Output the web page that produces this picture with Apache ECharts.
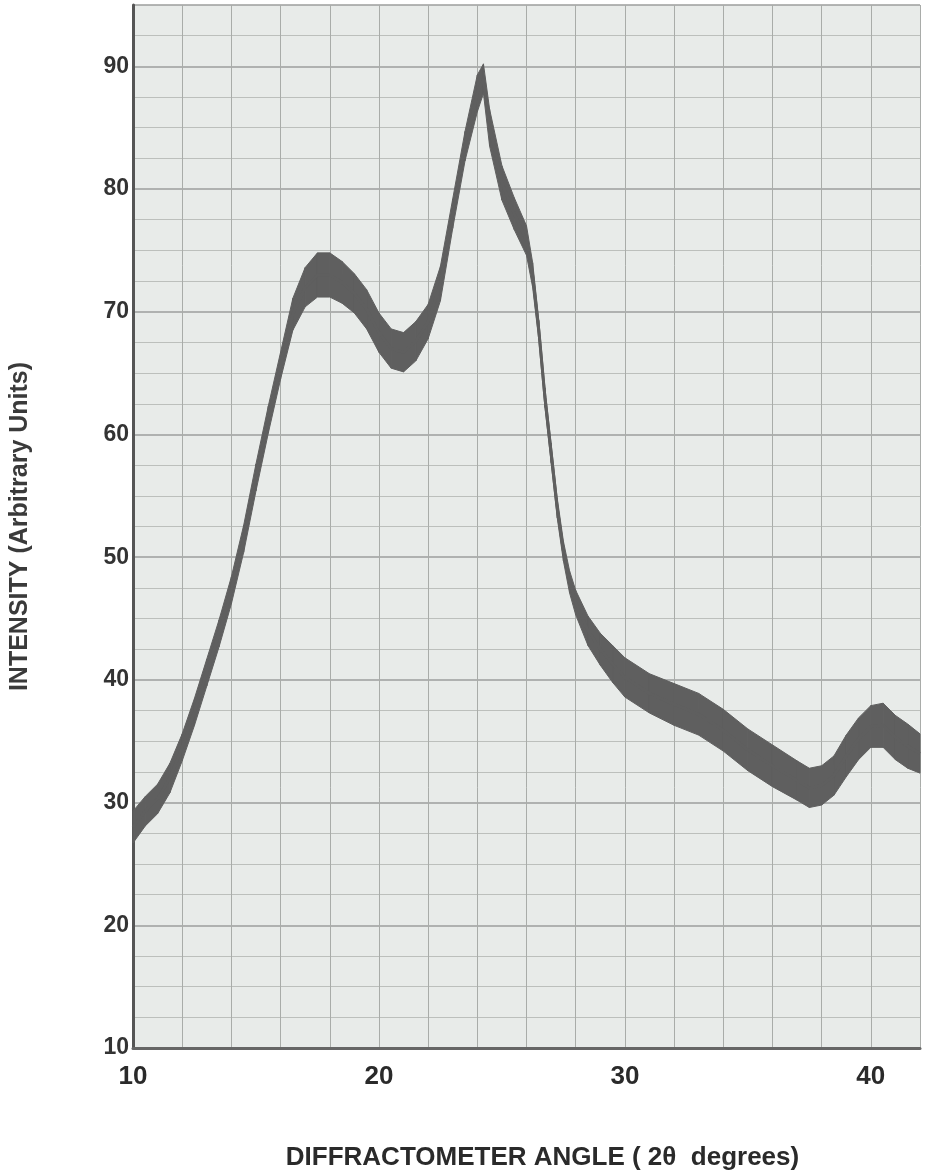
<!DOCTYPE html>
<html>
<head>
<meta charset="utf-8">
<title>XRD scan</title>
<script src="https://cdn.jsdelivr.net/npm/echarts@6/dist/echarts.min.js"></script>
<style>
  html, body { margin: 0; padding: 0; background: #ffffff; }
  #chart { width: 930px; height: 1176px; }
</style>
</head>
<body>
<div id="chart"></div>
<script>
// diffraction angle (2 theta, degrees)
var angles = [10, 10.5, 11, 11.5, 12, 12.5, 13, 13.5, 14, 14.5, 15, 15.5, 16, 16.5,
  17, 17.5, 18, 18.5, 19, 19.5, 20, 20.5, 21, 21.5, 22, 22.5, 23, 23.5, 24, 24.25,
  24.5, 25, 25.5, 26, 26.25, 26.5, 26.75, 27, 27.25, 27.5, 27.75, 28, 28.5, 29, 29.5,
  30, 31, 32, 33, 34, 35, 36, 37, 37.5, 38, 38.5, 39, 39.5, 40, 40.5, 41, 41.5, 42];

// centre of the trace (arbitrary units)
var intensity = [28.0, 29.3, 30.3, 32.0, 34.5, 37.4, 40.6, 43.8, 47.3, 51.5, 56.5, 61.2, 65.6, 69.8,
  72.0, 73.0, 73.0, 72.4, 71.5, 70.2, 68.3, 67.0, 66.7, 67.6, 69.2, 72.3, 78.0, 83.5, 87.8, 89.0,
  85.0, 80.5, 78.0, 75.8, 73.0, 68.5, 63.0, 58.5, 54.0, 50.5, 48.0, 46.3, 44.0, 42.5, 41.3,
  40.2, 38.9, 38.0, 37.2, 35.9, 34.3, 33.0, 31.8, 31.2, 31.4, 32.2, 33.8, 35.2, 36.2, 36.3, 35.3, 34.6, 34.0];

// half thickness of the noisy band
var noise = [1.3, 1.2, 1.2, 1.2, 1.1, 1.1, 1.1, 1.1, 1.1, 1.1, 1.1, 1.1, 1.1, 1.3,
  1.6, 1.8, 1.8, 1.7, 1.6, 1.6, 1.6, 1.6, 1.6, 1.6, 1.4, 1.4, 1.2, 1.2, 1.5, 1.2,
  1.5, 1.4, 1.3, 1.2, 1.0, 0.8, 0.8, 0.8, 0.8, 0.8, 0.9, 1.0, 1.2, 1.3, 1.5,
  1.6, 1.6, 1.7, 1.7, 1.7, 1.7, 1.7, 1.6, 1.6, 1.6, 1.6, 1.7, 1.7, 1.7, 1.8, 1.8, 1.8, 1.6];

var xLabels = [10, 20, 30, 40];
var yLabels = [10, 20, 30, 40, 50, 60, 70, 80, 90];

var traceColor = '#5f5f5f';
var bandData = angles.map(function (a, i) {
  return [a, intensity[i] - noise[i], intensity[i] + noise[i]];
});

// fill the band between lower and upper edge, one strip per step
function renderBand(params, api) {
  var i = params.dataIndex;
  if (i >= bandData.length - 1) return;
  var a = bandData[i], b = bandData[i + 1];
  var pts = [
    api.coord([a[0], a[2]]), api.coord([b[0], b[2]]),
    api.coord([b[0], b[1]]), api.coord([a[0], a[1]])
  ];
  return {
    type: 'polygon',
    shape: { points: pts },
    style: { fill: traceColor, stroke: traceColor, lineWidth: 1 }
  };
}

var font = '"Liberation Sans", Arial, sans-serif';
var chart = echarts.init(document.getElementById('chart'));

var option = {
  backgroundColor: '#ffffff',
  animation: false,
  grid: {
    left: 133, right: 10, top: 5, bottom: 124,
    show: true, backgroundColor: '#e8ebe9', borderWidth: 0
  },
  xAxis: {
    type: 'value',
    min: 10, max: 42, interval: 2,
    name: 'DIFFRACTOMETER ANGLE ( 2\u03b8  degrees)',
    nameLocation: 'middle',
    nameGap: 97,
    nameTextStyle: {
      fontFamily: font, fontWeight: 'bold', fontSize: 26, color: '#2a2a2a',
      padding: [0, 0, 0, 32]
    },
    axisLine: { lineStyle: { color: '#666', width: 3 } },
    axisTick: { show: false },
    axisLabel: {
      margin: 16, fontFamily: font, fontWeight: 'bold', fontSize: 26, color: '#2a2a2a',
      formatter: function (v) { return xLabels.indexOf(v) >= 0 ? String(v) : ''; }
    },
    splitLine: { show: true, lineStyle: { color: '#a9aca9', width: 1 } }
  },
  yAxis: {
    type: 'value',
    min: 10, max: 95, interval: 10,
    name: 'INTENSITY (Arbitrary Units)',
    nameLocation: 'middle',
    nameGap: 100,
    nameTextStyle: { fontFamily: font, fontWeight: 'bold', fontSize: 25, color: '#3a3a3a' },
    axisLine: { lineStyle: { color: '#555', width: 3 } },
    axisTick: { show: false },
    axisLabel: {
      margin: 4, fontFamily: font, fontWeight: 'bold', fontSize: 23, color: '#333333',
      formatter: function (v) { return yLabels.indexOf(v) >= 0 ? String(v) : ''; }
    },
    splitLine: { show: true, lineStyle: { color: '#9c9e9c', width: 1.5 } },
    minorTick: { show: false, splitNumber: 4 },
    minorSplitLine: { show: true, lineStyle: { color: '#bcbfbc', width: 1 } }
  },
  series: [
    {
      type: 'custom',
      renderItem: renderBand,
      data: bandData,
      encode: { x: 0, y: [1, 2] },
      silent: true
    },
    {
      type: 'line',
      data: angles.map(function (a, i) { return [a, intensity[i]]; }),
      symbol: 'none',
      lineStyle: { width: 3, color: traceColor }
    }
  ]
};
chart.setOption(option);
</script>
</body>
</html>
